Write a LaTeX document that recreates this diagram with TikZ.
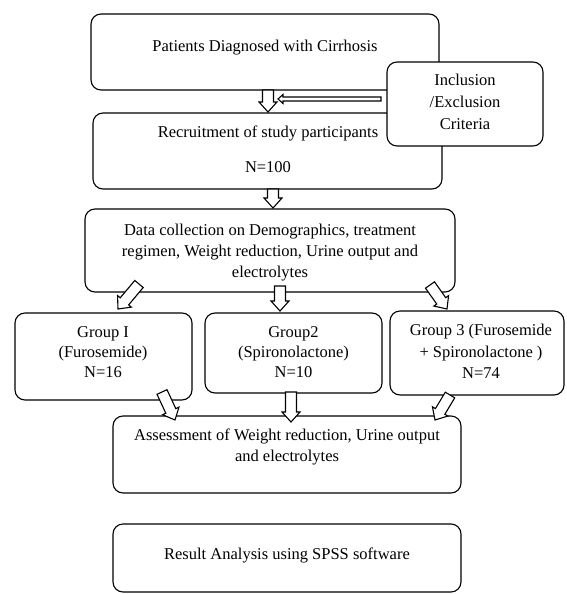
\documentclass[tikz,border=0pt]{standalone}
\usepackage{fontspec}
\setmainfont{Liberation Serif}
\usetikzlibrary{calc}
\tikzset{
  box/.style={draw, line width=1.1pt, rounded corners=10pt, fill=white, inner sep=0pt},
  txt/.style={inner sep=0pt, align=center, font=\fontsize{16.5}{21}\selectfont,
    execute at begin node=\strut, execute at end node=\strut},
  barrow/.style={draw, line width=1.1pt, fill=white, line join=miter},
}
\newcommand\blockarrow[5]{%
  \path let \p1=($(#2)-(#1)$), \n1={atan2(\y1,\x1)}, \n2={veclen(\x1,\y1)} in
    \pgfextra{\xdef\baang{\n1}\xdef\balen{\n2}};
  \begin{scope}[shift={(#1)}, rotate=\baang]
    \draw[barrow] (0,#3) -- ({\balen-#5},#3) -- ({\balen-#5},#4) -- (\balen,0)
      -- ({\balen-#5},-#4) -- ({\balen-#5},-#3) -- (0,-#3) -- cycle;
  \end{scope}}
\begin{document}
\begin{tikzpicture}[x=1pt,y=-1pt]
\useasboundingbox (0,0) rectangle (566,594);
% boxes
\node[box, minimum width=348pt, minimum height=76pt] (b1) at (265,52) {};
\node[txt] (t1) at (265,47) {Patients Diagnosed with Cirrhosis};
\node[box, minimum width=349pt, minimum height=76pt] (b2) at (267.5,151) {};
\node[txt] (t2a) at (268,133) {Recruitment of study participants};
\node[txt] (t2b) at (268,168) {N=100};
\node[box, minimum width=156pt, minimum height=84pt] (inc) at (465,104) {};
\node[txt, font=\fontsize{16.5}{22}\selectfont] (tinc) at (465,105.5) {Inclusion\\/Exclusion\\Criteria};
\node[box, minimum width=370pt, minimum height=83pt] (b3) at (270,250.5) {};
\node[txt] (t3) at (270,254) {Data collection on Demographics, treatment\\regimen, Weight reduction, Urine output and\\electrolytes};
\node[box, minimum width=177pt, minimum height=87pt] (g1) at (103.5,356.5) {};
\node[txt, font=\fontsize{16.5}{20}\selectfont] (tg1) at (103,355.5) {Group I\\(Furosemide)\\N=16};
\node[box, minimum width=177pt, minimum height=80pt] (g2) at (293.5,353) {};
\node[txt, font=\fontsize{16.5}{20}\selectfont] (tg2) at (293.5,355.5) {Group2\\(Spironolactone)\\N=10};
\node[box, minimum width=174pt, minimum height=84pt] (g3) at (477,353) {};
\node[txt, font=\fontsize{16.5}{21.5}\selectfont] (tg3) at (481,354.5) {Group 3 (Furosemide\\+ Spironolactone )\\N=74};
\node[box, minimum width=348pt, minimum height=77pt] (b4) at (287,454.5) {};
\node[txt] (t4) at (287,448.5) {Assessment of Weight reduction, Urine output\\and electrolytes};
\node[box, minimum width=348pt, minimum height=68pt] (b5) at (287,558) {};
\node[txt] (t5) at (287,555) {Result Analysis using SPSS software};
% arrow end points
\coordinate (a1s) at (268,90);   \coordinate (a1e) at (268,112);
\coordinate (ahs) at (381,99);   \coordinate (ahe) at (278,99);
\coordinate (a2s) at (273,189);  \coordinate (a2e) at (273,208);
\coordinate (a3ls) at (139,284); \coordinate (a3le) at (118,309);
\coordinate (a3ms) at (280,286); \coordinate (a3me) at (280,311);
\coordinate (a3rs) at (430,285); \coordinate (a3re) at (447,309);
\coordinate (a4ls) at (162,392); \coordinate (a4le) at (175,420);
\coordinate (a4ms) at (291,392); \coordinate (a4me) at (291,422);
\coordinate (a4rs) at (450,395); \coordinate (a4re) at (435,420);
% arrows
\blockarrow{a1s}{a1e}{5.5}{9}{10}
\blockarrow{ahs}{ahe}{2}{4.5}{5}
\blockarrow{a2s}{a2e}{5.5}{9}{10}
\blockarrow{a3ls}{a3le}{5.5}{9}{10}
\blockarrow{a3ms}{a3me}{5.5}{9}{10}
\blockarrow{a3rs}{a3re}{5.5}{9}{10}
\blockarrow{a4ls}{a4le}{5.5}{9}{10}
\blockarrow{a4ms}{a4me}{5.5}{9}{10}
\blockarrow{a4rs}{a4re}{5.5}{9}{10}
\end{tikzpicture}
\end{document}
